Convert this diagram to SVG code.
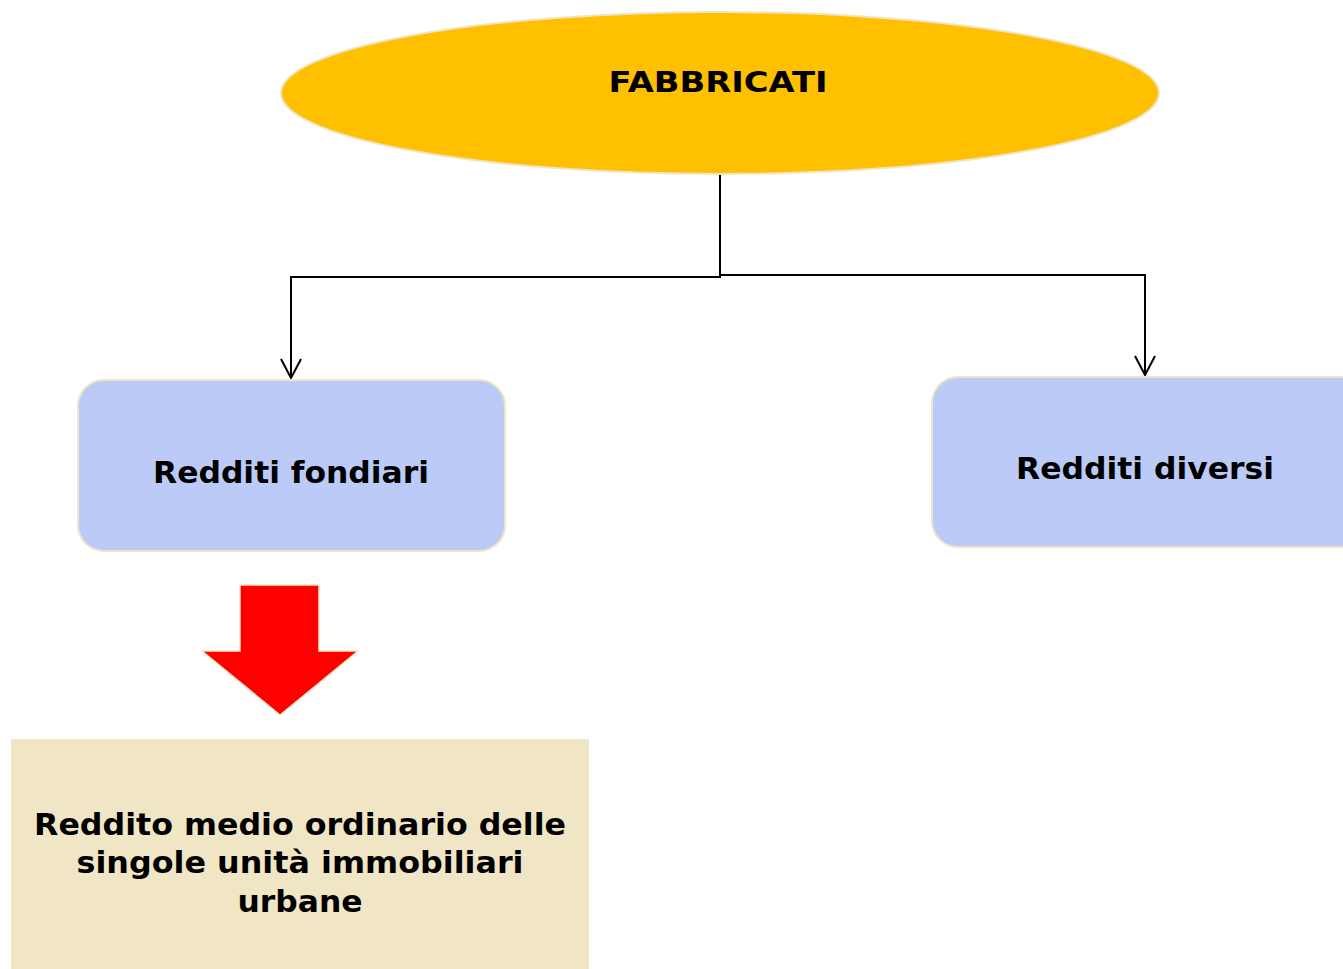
<svg xmlns="http://www.w3.org/2000/svg" width="1343" height="969" viewBox="0 0 1343 969">
<defs>
<style>
.t{font-family:"DejaVu Sans",Verdana,sans-serif;font-weight:bold;fill:#000;text-anchor:middle}
.box{fill:#BBCAF6;stroke:#EFE5C5;stroke-width:2}
.conn{fill:none;stroke:#000;stroke-width:2}
</style>
<marker id="arr" viewBox="0 0 22 22" refX="20" refY="11" markerWidth="22" markerHeight="22" markerUnits="userSpaceOnUse" orient="auto">
<path d="M1,1 L20,11 L1,21" fill="none" stroke="#000" stroke-width="2"/>
</marker>
</defs>
<rect width="1343" height="969" fill="#fff"/>
<g id="connectors">
<path class="conn" d="M720,175 V277 H291 V378" marker-end="url(#arr)"/>
<path class="conn" d="M720,275 H1145 V375" marker-end="url(#arr)"/>
</g>
<g id="fabbricati">
<ellipse cx="720" cy="93" rx="439" ry="81" fill="#FFC000" stroke="#EFE5C5" stroke-width="2"/>
<text class="t" x="718" y="92" font-size="28" textLength="219" lengthAdjust="spacingAndGlyphs">FABBRICATI</text>
</g>
<g id="redditi-fondiari">
<rect class="box" x="78" y="380" width="427" height="171" rx="26"/>
<text class="t" x="291" y="483" font-size="31" textLength="276" lengthAdjust="spacingAndGlyphs">Redditi fondiari</text>
</g>
<g id="redditi-diversi">
<rect class="box" x="932" y="377" width="440" height="170" rx="26"/>
<text class="t" x="1145" y="479" font-size="31" textLength="258" lengthAdjust="spacingAndGlyphs">Redditi diversi</text>
</g>
<g id="freccia">
<polygon points="240,585 319,585 319,651 358,651 280,715 202,651 240,651" fill="#FF0000" stroke="#EFE5C5" stroke-width="1.5"/>
</g>
<g id="reddito-medio">
<rect x="11" y="739" width="578" height="235" fill="#F0E6C5"/>
<text class="t" font-size="30" x="300" y="835" textLength="532" lengthAdjust="spacingAndGlyphs">Reddito medio ordinario delle</text>
<text class="t" font-size="30" x="300" y="873" textLength="447" lengthAdjust="spacingAndGlyphs">singole unità immobiliari</text>
<text class="t" font-size="30" x="300" y="912" textLength="125" lengthAdjust="spacingAndGlyphs">urbane</text>
</g>
</svg>
